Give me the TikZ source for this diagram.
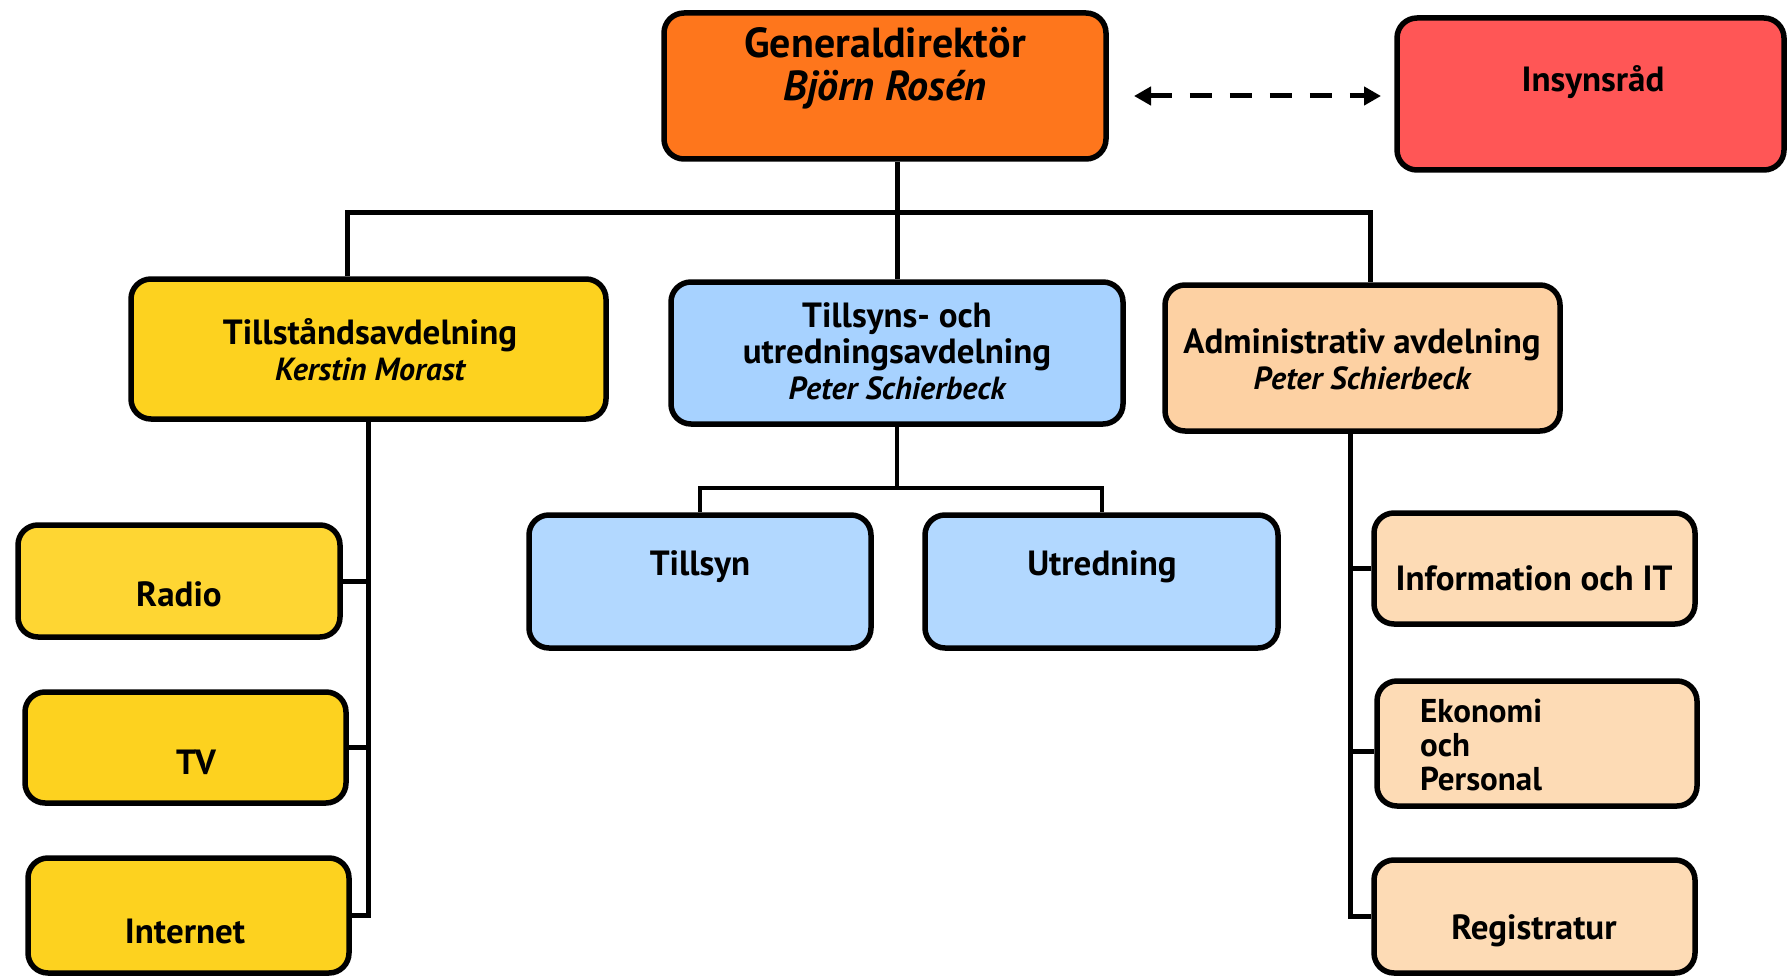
\documentclass[tikz,border=0pt]{standalone}
\usepackage{fontspec}
\setmainfont{PT Sans}
\usetikzlibrary{arrows.meta}
\definecolor{cGD}{HTML}{FE761C}
\definecolor{cIns}{HTML}{FF5656}
\definecolor{cYel}{HTML}{FDD21F}
\definecolor{cYelL}{HTML}{FED633}
\definecolor{cBlue}{HTML}{A7D2FF}
\definecolor{cBlueL}{HTML}{B2D8FF}
\definecolor{cPeach}{HTML}{FDD1A3}
\definecolor{cPeachL}{HTML}{FDDBB5}
\tikzset{
  box/.style={draw=black, line width=5.5pt, rounded corners=20pt, inner sep=0pt},
  conn/.style={draw=black, line width=5pt},
  thin conn/.style={draw=black, line width=4pt},
  dasharrow/.style={draw=black, line width=5pt, dash pattern=on 22pt off 18pt, {Triangle[length=17pt,width=18pt]}-{Triangle[length=17pt,width=18pt]}},
  txt/.style={font=\bfseries\fontsize{35}{36}\selectfont, align=center, inner sep=0pt},
}
\newcommand{\nm}[1]{{\itshape\fontsize{32}{34}\selectfont #1}}
\begin{document}
\begin{tikzpicture}[x=1pt,y=-1pt]
\useasboundingbox (0,0) rectangle (1789,979);
% boxes
\node[box, fill=cGD, minimum width=442pt, minimum height=146pt] (gd) at (885,86) {};
\node[box, fill=cIns, minimum width=387pt, minimum height=152pt] (ins) at (1590.5,94) {};
\node[box, fill=cYel, minimum width=475pt, minimum height=140pt] (till) at (368.5,349) {};
\node[box, fill=cBlue, minimum width=452pt, minimum height=142pt] (mid) at (897,353) {};
\node[box, fill=cPeach, minimum width=395pt, minimum height=146pt] (adm) at (1362.5,358) {};
\node[box, fill=cYelL, minimum width=322pt, minimum height=112pt] (radio) at (179,581) {};
\node[box, fill=cYel, minimum width=321pt, minimum height=111pt] (tv) at (185.5,747.5) {};
\node[box, fill=cYel, minimum width=321pt, minimum height=115pt] (inet) at (188.5,915.5) {};
\node[box, fill=cBlueL, minimum width=342pt, minimum height=133pt] (tsyn) at (700,581.5) {};
\node[box, fill=cBlueL, minimum width=353pt, minimum height=133pt] (utr) at (1101.5,581.5) {};
\node[box, fill=cPeachL, minimum width=321pt, minimum height=111pt] (info) at (1534.5,568.5) {};
\node[box, fill=cPeachL, minimum width=320pt, minimum height=125pt] (eko) at (1537,743.5) {};
\node[box, fill=cPeachL, minimum width=321pt, minimum height=113pt] (reg) at (1534.5,916.5) {};
% texts
\node[txt, font=\bfseries\fontsize{42}{43}\selectfont] (tgd) at (885,68) {Generaldirektör\\ {\itshape Björn Rosén}};
\node[txt] (tins) at (1593,82) {Insynsråd};
\node[txt] (ttill) at (370,350) {Tillståndsavdelning\\ \nm{Kerstin Morast}};
\node[txt] (tmid) at (897,351) {Tillsyns- och\\ utredningsavdelning\\ \nm{Peter Schierbeck}};
\node[txt] (tadm) at (1362,359) {Administrativ avdelning\\ \nm{Peter Schierbeck}};
\node[txt] (tradio) at (179,594) {Radio};
\node[txt] (ttv) at (196,762) {TV};
\node[txt] (tinet) at (185,931) {Internet};
\node[txt] (ttsyn) at (700,567) {Tillsyn};
\node[txt] (tutr) at (1102,567) {Utredning};
\node[txt] (tinfo) at (1534,578) {Information och IT};
\node[txt, align=left, anchor=west, font=\bfseries\fontsize{33}{34}\selectfont] (teko) at (1420,745) {Ekonomi\\ och\\ Personal};
\node[txt] (treg) at (1534,931) {Registratur};
% top tree
\coordinate (busL) at (347,212);
\coordinate (busR) at (1370,212);
\coordinate (midbus) at (897,488);
\coordinate (admx) at (1350,0);
\draw[conn] (gd.south -| mid.north) -- (mid.north);
\draw[conn] (busL |- till.north) -- (busL) -- (busR) -- (busR |- adm.north);
% left subtree
\draw[conn] (till.south) -- (till.south |- inet.east) -- (inet.east);
\draw[conn] (radio.east) -- (radio.east -| till.south);
\draw[conn] (tv.east) -- (tv.east -| till.south);
% middle subtree
\draw[thin conn] (mid.south) -- (midbus);
\draw[thin conn] (tsyn.north) -- (tsyn.north |- midbus) -- (utr.north |- midbus) -- (utr.north);
% right subtree
\draw[conn] (admx |- adm.south) -- (admx |- reg.west) -- (reg.west);
\draw[conn] (info.west) -- (info.west -| admx);
\draw[conn] ([yshift=-8pt]eko.west) -- ([yshift=-8pt]eko.west -| admx);
% dashed arrow
\coordinate (a1) at (1134,96);
\coordinate (a2) at (1381,96);
\draw[dasharrow] (a1) -- (a2);
\end{tikzpicture}
\end{document}
